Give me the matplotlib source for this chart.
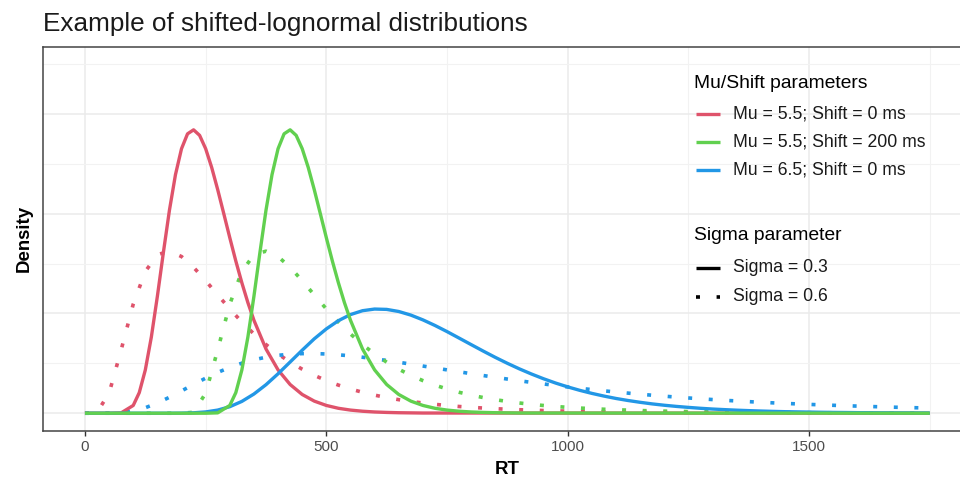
import matplotlib.pyplot as plt
from matplotlib.lines import Line2D

plt.rcParams['font.family'] = ['Liberation Sans', 'DejaVu Sans']

# RT grid (ms) for the wide curves
rt = [0, 25, 50, 75, 100, 125, 150, 175, 200, 225, 250, 275, 300, 325, 350, 375,
      400, 425, 450, 475, 500, 525, 550, 575, 600, 625, 650, 675, 700, 725, 750,
      775, 800, 825, 850, 875, 900, 925, 950, 975, 1000, 1025, 1050, 1075, 1100,
      1125, 1150, 1175, 1200, 1225, 1250, 1275, 1300, 1325, 1350, 1375, 1400,
      1425, 1450, 1475, 1500, 1525, 1550, 1575, 1600, 1625, 1650, 1675, 1700,
      1725, 1750]

# Sigma = 0.3 curves need a finer grid around the peaks
rt_red_s03 = [0, 25, 50, 75, 100, 112.5, 125, 137.5, 150, 162.5, 175, 187.5, 200,
              212.5, 225, 237.5, 250, 262.5, 275, 287.5, 300, 312.5, 325, 337.5,
              350, 375, 400, 425, 450, 475, 500, 525, 550, 575, 600, 625, 650,
              700, 1750]
dens_red_s03 = [0, 0, 0, 0.0000075, 0.000156, 0.000413, 0.000867, 0.001527,
                0.002344, 0.003227, 0.004071, 0.004785, 0.005304, 0.005603,
                0.005683, 0.005572, 0.005305, 0.004929, 0.004483, 0.004004,
                0.003520, 0.003052, 0.002616, 0.002218, 0.001865, 0.001288,
                0.000869, 0.000576, 0.000376, 0.000243, 0.000156, 0.000099,
                0.000063, 0.000040, 0.000025, 0.000016, 0.000010, 0.000004, 0]

rt_green_s03 = [0, 200, 225, 250, 275, 300, 312.5, 325, 337.5, 350, 362.5, 375,
                387.5, 400, 412.5, 425, 437.5, 450, 462.5, 475, 487.5, 500, 512.5,
                525, 537.5, 550, 575, 600, 625, 650, 675, 700, 725, 750, 775, 800,
                825, 850, 900, 1750]
dens_green_s03 = [0, 0, 0, 0, 0.0000075, 0.000156, 0.000413, 0.000867, 0.001527,
                  0.002344, 0.003227, 0.004071, 0.004785, 0.005304, 0.005603,
                  0.005683, 0.005572, 0.005305, 0.004929, 0.004483, 0.004004,
                  0.003520, 0.003052, 0.002616, 0.002218, 0.001865, 0.001288,
                  0.000869, 0.000576, 0.000376, 0.000243, 0.000156, 0.000099,
                  0.000063, 0.000040, 0.000025, 0.000016, 0.000010, 0.000004, 0]

dens_blue_s03 = [0, 0, 0, 0, 0, 0, 0, 0, 0.000002, 0.0000086, 0.000026, 0.000063,
                 0.000131, 0.000237, 0.000385, 0.000572, 0.000791, 0.001027,
                 0.001264, 0.001492, 0.001691, 0.001856, 0.001978, 0.002056,
                 0.002089, 0.002082, 0.002040, 0.001968, 0.001872, 0.001760,
                 0.001637, 0.001507, 0.001376, 0.001246, 0.001120, 0.001001,
                 0.000889, 0.000786, 0.000691, 0.000605, 0.000528, 0.000459,
                 0.000398, 0.000344, 0.000296, 0.000255, 0.000219, 0.000187,
                 0.000160, 0.000137, 0.000117, 0.000099, 0.000084, 0.000072,
                 0.000061, 0.000052, 0.000044, 0.000037, 0.000031, 0.000027,
                 0.000023, 0.000019, 0.000016, 0.000014, 0.0000115, 0.000010,
                 0.000008, 0.000007, 0.000006, 0.000005, 0.000004]

# Sigma = 0.6 curves
dens_red_s06 = [0, 0.0000193, 0.000401, 0.001271, 0.002187, 0.002843, 0.003178,
                0.003250, 0.003142, 0.002926, 0.002658, 0.002372, 0.002092,
                0.001829, 0.001590, 0.001377, 0.001188, 0.001024, 0.000883,
                0.000760, 0.000654, 0.000564, 0.000486, 0.000420, 0.000363,
                0.000314, 0.000272, 0.000236, 0.000205, 0.000178, 0.000155,
                0.000135, 0.000118, 0.000104, 0.000091, 0.000080, 0.000070,
                0.000062, 0.000054, 0.000048, 0.000042, 0.000038, 0.000033,
                0.000030, 0.000026, 0.000023, 0.000021, 0.000019, 0.000017,
                0.000015, 0.000013, 0.000012, 0.000011, 0.0000095, 0.0000086,
                0.0000077, 0.0000069, 0.0000062, 0.0000056, 0.0000051, 0.0000046,
                0.0000042, 0.0000038, 0.0000034, 0.0000031, 0.0000028, 0.0000025,
                0.0000023, 0.0000021, 0.0000019, 0.0000018]

dens_green_s06 = [0, 0, 0, 0, 0, 0, 0, 0, 0, 0.0000193, 0.000401, 0.001271,
                  0.002187, 0.002843, 0.003178, 0.003250, 0.003142, 0.002926,
                  0.002658, 0.002372, 0.002092, 0.001829, 0.001590, 0.001377,
                  0.001188, 0.001024, 0.000883, 0.000760, 0.000654, 0.000564,
                  0.000486, 0.000420, 0.000363, 0.000314, 0.000272, 0.000236,
                  0.000205, 0.000178, 0.000155, 0.000135, 0.000118, 0.000104,
                  0.000091, 0.000080, 0.000070, 0.000062, 0.000054, 0.000048,
                  0.000042, 0.000038, 0.000033, 0.000030, 0.000026, 0.000023,
                  0.000021, 0.000019, 0.000017, 0.000015, 0.000013, 0.000012,
                  0.000011, 0.0000095, 0.0000086, 0.0000077, 0.0000069,
                  0.0000062, 0.0000056, 0.0000051, 0.0000046, 0.0000042,
                  0.0000038]

dens_blue_s06 = [0, 0, 0.0000012, 0.0000119, 0.0000454, 0.000110, 0.000204,
                 0.000320, 0.000447, 0.000578, 0.000703, 0.000818, 0.000919,
                 0.001003, 0.001071, 0.001124, 0.001161, 0.001184, 0.001195,
                 0.001196, 0.001188, 0.001172, 0.001150, 0.001123, 0.001092,
                 0.001058, 0.001022, 0.000985, 0.000946, 0.000908, 0.000869,
                 0.000831, 0.000793, 0.000756, 0.000720, 0.000685, 0.000651,
                 0.000618, 0.000587, 0.000557, 0.000528, 0.000500, 0.000474,
                 0.000449, 0.000425, 0.000403, 0.000381, 0.000361, 0.000342,
                 0.000323, 0.000306, 0.000290, 0.000274, 0.000259, 0.000246,
                 0.000232, 0.000220, 0.000208, 0.000197, 0.000187, 0.000177,
                 0.000168, 0.000159, 0.000150, 0.000143, 0.000135, 0.000128,
                 0.000121, 0.000115, 0.000109, 0.000104]

mu_labels = ["Mu = 5.5; Shift = 0 ms", "Mu = 5.5; Shift = 200 ms", "Mu = 6.5; Shift = 0 ms"]
sigma_labels = ["Sigma = 0.3", "Sigma = 0.6"]
colors = ["#DF536B", "#61D04F", "#2297E6"]

lw = 2.4
lw_dot = 2.6
dots = (0, (1.1, 4.6))
W, H = 960, 478

fig = plt.figure(figsize=(9.6, 4.78), dpi=100)
ax = fig.add_axes([0.0445, 0.099, 0.968, 0.8033])

# dotted (sigma 0.6)
ax.plot(rt, dens_red_s06, color=colors[0], lw=lw_dot, ls=dots, dash_capstyle="butt")
ax.plot(rt, dens_blue_s06, color=colors[2], lw=lw_dot, ls=dots, dash_capstyle="butt")
ax.plot(rt, dens_green_s06, color=colors[1], lw=lw_dot, ls=dots, dash_capstyle="butt")
# solid (sigma 0.3)
ax.plot(rt_red_s03, dens_red_s03, color=colors[0], lw=lw, solid_capstyle="butt")
ax.plot(rt, dens_blue_s03, color=colors[2], lw=lw, solid_capstyle="butt")
ax.plot(rt_green_s03, dens_green_s03, color=colors[1], lw=lw, solid_capstyle="butt")

ax.set_xlim(-87.5, 1837.5)
ax.set_ylim(-0.00035, 0.00735)
ax.set_xticks([0, 500, 1000, 1500])
ax.set_xticks([250, 750, 1250, 1750], minor=True)
ax.set_yticks([0, 0.002, 0.004, 0.006])
ax.set_yticks([0.001, 0.003, 0.005, 0.007], minor=True)
ax.grid(True, which="major", color="#EBEBEB", lw=1.1)
ax.grid(True, which="minor", color="#F2F2F2", lw=0.8)
ax.set_axisbelow(True)
ax.tick_params(axis="x", which="major", length=3.5, width=1, color="#333333",
               labelsize=11, labelcolor="#4D4D4D", pad=3)
ax.tick_params(axis="x", which="minor", length=0)
ax.tick_params(axis="y", which="both", length=0, labelleft=False)
for s in ax.spines.values():
    s.set_color("#444444")
    s.set_linewidth(1.1)

ax.set_xlabel("RT", fontsize=13.4, fontweight="bold", labelpad=5)
ax.set_ylabel("Density", fontsize=13.4, fontweight="bold", labelpad=7)
fig.text(43 / W, 1 - 31 / H, "Example of shifted-lognormal distributions", fontsize=18.8,
         color="#1A1A1A", ha="left", va="baseline")

# legends, drawn by hand in pixel positions
fig.text(694 / W, 1 - 88 / H, "Mu/Shift parameters", fontsize=13.9, ha="left", va="baseline")
for lab, c, y in zip(mu_labels, colors, [114, 141.7, 170]):
    fig.add_artist(Line2D([696 / W, 720 / W], [1 - y / H, 1 - y / H], color=c, lw=lw,
                          solid_capstyle="butt"))
    fig.text(733 / W, 1 - y / H, lab, fontsize=12.7, ha="left", va="center", color="#1A1A1A")

fig.text(694 / W, 1 - 240 / H, "Sigma parameter", fontsize=13.9, ha="left", va="baseline")
for lab, ls, w, y in zip(sigma_labels, ["-", dots], [lw, lw_dot], [268, 296.7]):
    fig.add_artist(Line2D([696 / W, 720 / W], [1 - y / H, 1 - y / H], color="black", lw=w,
                          ls=ls, solid_capstyle="butt", dash_capstyle="butt"))
    fig.text(733 / W, 1 - y / H, lab, fontsize=12.7, ha="left", va="center", color="#1A1A1A")

fig.savefig("out.png", dpi=100)
